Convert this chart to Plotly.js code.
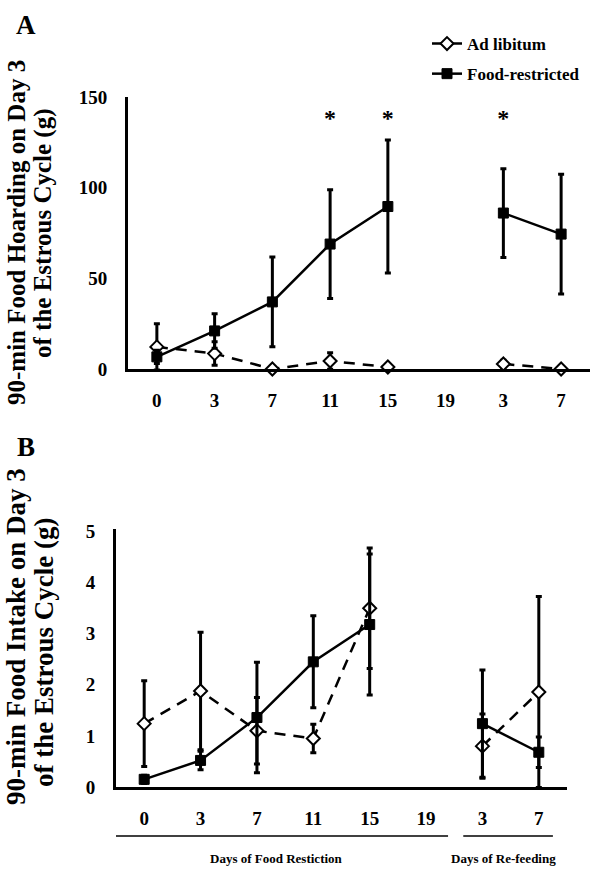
<!DOCTYPE html>
<html>
<head>
<meta charset="utf-8">
<script src="https://cdn.plot.ly/plotly-3.0.1.min.js"></script>
<style>body{margin:0;padding:0;background:#fff;} #chart{width:600px;height:870px;}</style>
</head>
<body>
<div id="chart"></div>
<script>
// ---- Data ----
const xIdx = [0, 1, 2, 3, 4, 5, 6, 7];
const xLabels = ['0', '3', '7', '11', '15', '19', '3', '7'];

// Panel A: 90-min food hoarding (g)
const adLibA    = [12.2, 8.5, 0, 4.4, 1.1, null, 2.8, 0];
const adLibAErr = [12.8, 6.5, 0, 4.5, 1.0, null, 2.0, 0];
const frA       = [6.7, 21, 37, 68.9, 89.6, null, 86, 74.4];
const frAErr    = [3.7, 9.5, 24.7, 30, 36.7, null, 24.5, 33];
const starIdxA  = [3, 4, 6];
const starYA    = [137.5, 137.5, 137.5];

// Panel B: 90-min food intake (g)
const adLibB    = [1.24, 1.88, 1.1, 0.95, 3.5, null, 0.8, 1.86];
const adLibBErr = [0.84, 1.15, 0.65, 0.28, 1.18, null, 0.63, 1.87];
const frB       = [0.15, 0.52, 1.36, 2.45, 3.18, null, 1.24, 0.68];
const frBErr    = [0.08, 0.18, 1.08, 0.9, 1.38, null, 1.05, 0.3];

const yTicksA = [0, 50, 100, 150];
const yTicksB = [0, 1, 2, 3, 4, 5];

// ---- Styling ----
const SERIF = '"Liberation Serif", "Times New Roman", Times, serif';
const W = 600, H = 870;
const px = v => v / W;
const py = v => 1 - v / H;

function errBar(arr) {
  return {type: 'data', array: arr, visible: true, color: '#000', thickness: 3, width: 3};
}
const alMarker = {symbol: 'diamond', size: 10, color: '#fff', line: {color: '#000', width: 2}};
const frMarker = {symbol: 'square', size: 10, color: '#000', line: {color: '#000', width: 1}};
const alLine = {color: '#000', width: 2.5, dash: '11px,8px'};
const frLine = {color: '#000', width: 2.5};

const traces = [
  {x: xIdx, y: adLibA, error_y: errBar(adLibAErr), mode: 'lines+markers', name: 'Ad libitum',
   line: alLine, marker: alMarker, xaxis: 'x', yaxis: 'y', legendgroup: 'a', cliponaxis: false},
  {x: xIdx, y: frA, error_y: errBar(frAErr), mode: 'lines+markers', name: 'Food-restricted',
   line: frLine, marker: frMarker, xaxis: 'x', yaxis: 'y', legendgroup: 'b', cliponaxis: false},
  {x: starIdxA, y: starYA, mode: 'text', text: starIdxA.map(() => '*'), textposition: 'middle center',
   textfont: {family: SERIF, size: 24, color: '#000', weight: 'bold'}, showlegend: false, xaxis: 'x', yaxis: 'y', hoverinfo: 'skip'},
  {x: xIdx, y: adLibB, error_y: errBar(adLibBErr), mode: 'lines+markers', name: 'Ad libitum',
   line: alLine, marker: alMarker, xaxis: 'x2', yaxis: 'y2', showlegend: false, cliponaxis: false},
  {x: xIdx, y: frB, error_y: errBar(frBErr), mode: 'lines+markers', name: 'Food-restricted',
   line: frLine, marker: frMarker, xaxis: 'x2', yaxis: 'y2', showlegend: false, cliponaxis: false}
];

const tickFont = {family: SERIF, size: 19, color: '#000', weight: 'bold'};
const baseX = {range: [-0.5, 7.5], tickvals: xIdx, ticktext: xLabels, showline: true, linewidth: 3,
  linecolor: '#000', ticks: '', showgrid: false, zeroline: false, tickfont: tickFont, ticklabelstandoff: 12, fixedrange: true};
const baseY = {showline: true, linewidth: 3, linecolor: '#000', ticks: '', showgrid: false, zeroline: false,
  tickfont: tickFont, ticklabelstandoff: 14, fixedrange: true};

const titleFontA = {family: SERIF, size: 25, color: '#000', weight: 'bold'};
const titleFontB = {family: SERIF, size: 27, color: '#000', weight: 'bold'};
const smallFont = {family: SERIF, size: 13, color: '#000', weight: 'bold'};
const panelFont = {family: SERIF, size: 27, color: '#000', weight: 'bold'};

function ann(text, x, y, font, angle) {
  return {text: text, x: px(x), y: py(y), xref: 'paper', yref: 'paper', xanchor: 'center', yanchor: 'middle',
    showarrow: false, textangle: angle || 0, font: font};
}

const layout = {
  width: W, height: H,
  margin: {l: 0, r: 0, t: 0, b: 0},
  paper_bgcolor: '#fff', plot_bgcolor: '#fff',
  xaxis: Object.assign({}, baseX, {domain: [px(128), px(590)], anchor: 'y'}),
  yaxis: Object.assign({}, baseY, {domain: [py(369), py(97)], range: [0, 150], tickvals: yTicksA, anchor: 'x'}),
  xaxis2: Object.assign({}, baseX, {domain: [px(116), px(567)], anchor: 'y2'}),
  yaxis2: Object.assign({}, baseY, {domain: [py(787), py(529)], range: [0, 5.05], tickvals: yTicksB, anchor: 'x2'}),
  showlegend: true,
  legend: {x: px(427), y: py(26), xanchor: 'left', yanchor: 'top', font: {family: SERIF, size: 17, color: '#000', weight: 'bold'},
    bgcolor: 'rgba(0,0,0,0)', traceorder: 'grouped', tracegroupgap: 5},
  annotations: [
    ann('A', 26, 25, panelFont),
    ann('B', 26, 447, panelFont),
    ann('90-min Food Hoarding on Day 3', 16, 233, titleFontA, -90),
    ann('of the Estrous Cycle (g)', 43, 233, titleFontA, -90),
    ann('90-min Food Intake on Day 3', 16, 637, titleFontB, -90),
    ann('of the Estrous Cycle (g)', 44, 653, titleFontB, -90),
    ann('Days of Food Restiction', 276, 858, smallFont),
    ann('Days of Re-feeding', 503, 858, smallFont)
  ],
  shapes: [
    {type: 'line', xref: 'x2', yref: 'paper', x0: -0.53, x1: 5.39, y0: py(836), y1: py(836), line: {color: '#000', width: 1.5}},
    {type: 'line', xref: 'x2', yref: 'paper', x0: 5.66, x1: 7.25, y0: py(836), y1: py(836), line: {color: '#000', width: 1.5}}
  ]
};

Plotly.newPlot('chart', traces, layout, {staticPlot: true, displayModeBar: false});
</script>
</body>
</html>
